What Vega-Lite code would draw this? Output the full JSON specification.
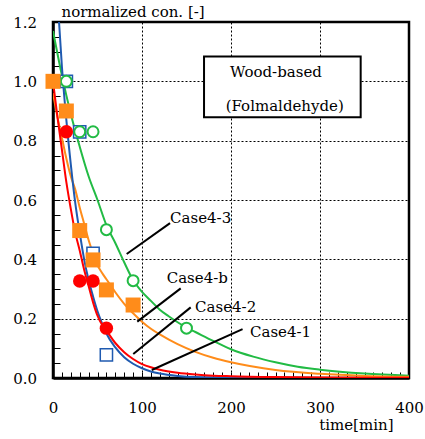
{
  "$schema": "https://vega.github.io/schema/vega-lite/v6.json",
  "width": 356,
  "height": 356,
  "autosize": {"type": "none"},
  "padding": {"left": 53, "top": 22, "right": 16, "bottom": 61},
  "background": "white",
  "config": {
    "view": {"stroke": "black", "strokeWidth": 2.5},
    "font": "DejaVu Serif",
    "text": {"font": "DejaVu Serif", "fontSize": 15, "color": "black"}
  },
  "datasets": {
    "curves": [
      {"series": "Case4-3", "x": 0, "y": 1.17}, {"series": "Case4-3", "x": 10, "y": 1.02}, {"series": "Case4-3", "x": 20, "y": 0.89}, {"series": "Case4-3", "x": 30, "y": 0.78}, {"series": "Case4-3", "x": 40, "y": 0.68}, {"series": "Case4-3", "x": 50, "y": 0.6}, {"series": "Case4-3", "x": 60, "y": 0.515}, {"series": "Case4-3", "x": 70, "y": 0.455}, {"series": "Case4-3", "x": 80, "y": 0.39}, {"series": "Case4-3", "x": 90, "y": 0.33}, {"series": "Case4-3", "x": 100, "y": 0.29}, {"series": "Case4-3", "x": 110, "y": 0.26}, {"series": "Case4-3", "x": 120, "y": 0.23}, {"series": "Case4-3", "x": 130, "y": 0.208}, {"series": "Case4-3", "x": 140, "y": 0.188}, {"series": "Case4-3", "x": 150, "y": 0.17}, {"series": "Case4-3", "x": 160, "y": 0.155}, {"series": "Case4-3", "x": 180, "y": 0.125}, {"series": "Case4-3", "x": 200, "y": 0.097}, {"series": "Case4-3", "x": 225, "y": 0.072}, {"series": "Case4-3", "x": 250, "y": 0.053}, {"series": "Case4-3", "x": 275, "y": 0.038}, {"series": "Case4-3", "x": 300, "y": 0.028}, {"series": "Case4-3", "x": 350, "y": 0.015}, {"series": "Case4-3", "x": 400, "y": 0.008},
      {"series": "Case4-b", "x": 0, "y": 0.96}, {"series": "Case4-b", "x": 5, "y": 0.88}, {"series": "Case4-b", "x": 10, "y": 0.81}, {"series": "Case4-b", "x": 15, "y": 0.74}, {"series": "Case4-b", "x": 20, "y": 0.68}, {"series": "Case4-b", "x": 25, "y": 0.635}, {"series": "Case4-b", "x": 30, "y": 0.575}, {"series": "Case4-b", "x": 35, "y": 0.52}, {"series": "Case4-b", "x": 40, "y": 0.465}, {"series": "Case4-b", "x": 45, "y": 0.42}, {"series": "Case4-b", "x": 50, "y": 0.38}, {"series": "Case4-b", "x": 55, "y": 0.355}, {"series": "Case4-b", "x": 60, "y": 0.333}, {"series": "Case4-b", "x": 70, "y": 0.289}, {"series": "Case4-b", "x": 80, "y": 0.25}, {"series": "Case4-b", "x": 90, "y": 0.218}, {"series": "Case4-b", "x": 100, "y": 0.19}, {"series": "Case4-b", "x": 110, "y": 0.166}, {"series": "Case4-b", "x": 120, "y": 0.147}, {"series": "Case4-b", "x": 140, "y": 0.114}, {"series": "Case4-b", "x": 160, "y": 0.088}, {"series": "Case4-b", "x": 180, "y": 0.068}, {"series": "Case4-b", "x": 200, "y": 0.053}, {"series": "Case4-b", "x": 250, "y": 0.027}, {"series": "Case4-b", "x": 300, "y": 0.014}, {"series": "Case4-b", "x": 350, "y": 0.007}, {"series": "Case4-b", "x": 400, "y": 0.004},
      {"series": "Case4-1", "x": 5, "y": 1.27}, {"series": "Case4-1", "x": 7, "y": 1.19}, {"series": "Case4-1", "x": 10, "y": 1.05}, {"series": "Case4-1", "x": 15, "y": 0.87}, {"series": "Case4-1", "x": 20, "y": 0.72}, {"series": "Case4-1", "x": 25, "y": 0.59}, {"series": "Case4-1", "x": 30, "y": 0.49}, {"series": "Case4-1", "x": 35, "y": 0.4}, {"series": "Case4-1", "x": 40, "y": 0.33}, {"series": "Case4-1", "x": 45, "y": 0.275}, {"series": "Case4-1", "x": 50, "y": 0.225}, {"series": "Case4-1", "x": 55, "y": 0.185}, {"series": "Case4-1", "x": 60, "y": 0.15}, {"series": "Case4-1", "x": 70, "y": 0.103}, {"series": "Case4-1", "x": 80, "y": 0.07}, {"series": "Case4-1", "x": 90, "y": 0.048}, {"series": "Case4-1", "x": 100, "y": 0.033}, {"series": "Case4-1", "x": 110, "y": 0.022}, {"series": "Case4-1", "x": 120, "y": 0.015}, {"series": "Case4-1", "x": 140, "y": 0.007}, {"series": "Case4-1", "x": 160, "y": 0.003}, {"series": "Case4-1", "x": 200, "y": 0.001}, {"series": "Case4-1", "x": 250, "y": 0.0}, {"series": "Case4-1", "x": 400, "y": 0.0},
      {"series": "Case4-2", "x": 0, "y": 1.0}, {"series": "Case4-2", "x": 5, "y": 0.88}, {"series": "Case4-2", "x": 10, "y": 0.77}, {"series": "Case4-2", "x": 15, "y": 0.66}, {"series": "Case4-2", "x": 20, "y": 0.57}, {"series": "Case4-2", "x": 25, "y": 0.49}, {"series": "Case4-2", "x": 30, "y": 0.43}, {"series": "Case4-2", "x": 35, "y": 0.365}, {"series": "Case4-2", "x": 40, "y": 0.31}, {"series": "Case4-2", "x": 45, "y": 0.255}, {"series": "Case4-2", "x": 50, "y": 0.21}, {"series": "Case4-2", "x": 55, "y": 0.18}, {"series": "Case4-2", "x": 60, "y": 0.16}, {"series": "Case4-2", "x": 70, "y": 0.118}, {"series": "Case4-2", "x": 80, "y": 0.087}, {"series": "Case4-2", "x": 90, "y": 0.064}, {"series": "Case4-2", "x": 100, "y": 0.047}, {"series": "Case4-2", "x": 110, "y": 0.036}, {"series": "Case4-2", "x": 120, "y": 0.028}, {"series": "Case4-2", "x": 140, "y": 0.018}, {"series": "Case4-2", "x": 160, "y": 0.012}, {"series": "Case4-2", "x": 180, "y": 0.008}, {"series": "Case4-2", "x": 200, "y": 0.006}, {"series": "Case4-2", "x": 250, "y": 0.003}, {"series": "Case4-2", "x": 300, "y": 0.0015}, {"series": "Case4-2", "x": 400, "y": 0.0005}
    ],
    "points": [
      {"series": "Case4-1", "x": 15, "y": 1.0}, {"series": "Case4-1", "x": 30, "y": 0.83}, {"series": "Case4-1", "x": 45, "y": 0.42}, {"series": "Case4-1", "x": 60, "y": 0.078},
      {"series": "Case4-3", "x": 15, "y": 1.0}, {"series": "Case4-3", "x": 30, "y": 0.83}, {"series": "Case4-3", "x": 45, "y": 0.83}, {"series": "Case4-3", "x": 60, "y": 0.5}, {"series": "Case4-3", "x": 90, "y": 0.328}, {"series": "Case4-3", "x": 150, "y": 0.168},
      {"series": "Case4-b", "x": 0, "y": 1.0}, {"series": "Case4-b", "x": 15, "y": 0.9}, {"series": "Case4-b", "x": 30, "y": 0.497}, {"series": "Case4-b", "x": 45, "y": 0.398}, {"series": "Case4-b", "x": 60, "y": 0.297}, {"series": "Case4-b", "x": 90, "y": 0.246},
      {"series": "Case4-2", "x": 15, "y": 0.83}, {"series": "Case4-2", "x": 30, "y": 0.327}, {"series": "Case4-2", "x": 45, "y": 0.327}, {"series": "Case4-2", "x": 60, "y": 0.168}
    ],
    "leaders": [
      {"x": 82.8, "y": 0.418, "x2": 131.5, "y2": 0.522},
      {"x": 94.7, "y": 0.19, "x2": 143.5, "y2": 0.302},
      {"x": 90.2, "y": 0.081, "x2": 154.7, "y2": 0.238},
      {"x": 111, "y": 0.027, "x2": 213, "y2": 0.165}
    ],
    "labels": [
      {"label": "Case4-3", "x": 131.5, "y": 0.522},
      {"label": "Case4-b", "x": 127.7, "y": 0.321},
      {"label": "Case4-2", "x": 159.6, "y": 0.224},
      {"label": "Case4-1", "x": 221.3, "y": 0.137}
    ],
    "box": [{"x": 169.7, "x2": 345.7, "y": 0.879, "y2": 1.084}],
    "boxtext": [
      {"label": "Wood-based", "x": 198.9, "y": 1.013},
      {"label": "(Folmaldehyde)", "x": 194, "y": 0.901}
    ]
  },
  "encoding": {
    "x": {
      "field": "x", "type": "quantitative",
      "scale": {"domain": [0, 400], "nice": false, "zero": false},
      "axis": {
        "values": [0,10,20,30,40,50,60,70,80,90,100,110,120,130,140,150,160,170,180,190,200,210,220,230,240,250,260,270,280,290,300,310,320,330,340,350,360,370,380,390,400],
        "labelExpr": "datum.value % 100 === 0 ? datum.label : ''",
        "grid": true, "gridColor": "black", "gridDash": [2, 2], "gridWidth": 1,
        "gridOpacity": {"condition": {"test": "datum.value % 100 === 0", "value": 1}, "value": 0},
        "tickSize": -6, "tickColor": "black", "tickWidth": 1,
        "domainColor": "black", "domainWidth": 2.5,
        "labelFont": "DejaVu Serif", "labelFontSize": 15, "labelColor": "black", "labelPadding": 28,
        "labelOverlap": false, "labelFlush": false,
        "title": "time[min]", "titleFont": "DejaVu Serif", "titleFontSize": 15, "titleFontWeight": "normal", "titleColor": "black",
        "titleAlign": "right", "titleX": 340, "titleY": 51, "titleBaseline": "alphabetic"
      }
    },
    "y": {
      "field": "y", "type": "quantitative",
      "scale": {"domain": [0, 1.2], "nice": false},
      "axis": {
        "values": [0,0.05,0.1,0.15,0.2,0.25,0.3,0.35,0.4,0.45,0.5,0.55,0.6,0.65,0.7,0.75,0.8,0.85,0.9,0.95,1.0,1.05,1.1,1.15,1.2],
        "labelExpr": "abs(datum.value*5 - round(datum.value*5)) < 0.001 ? format(datum.value, '.1f') : ''",
        "grid": true, "gridColor": "black", "gridDash": [2, 2], "gridWidth": 1,
        "gridOpacity": {"condition": {"test": "abs(datum.value*5 - round(datum.value*5)) < 0.001", "value": 1}, "value": 0},
        "tickSize": -7, "tickColor": "black", "tickWidth": 1,
        "domainColor": "black", "domainWidth": 2.5,
        "labelFont": "DejaVu Serif", "labelFontSize": 15, "labelColor": "black", "labelPadding": 23.5,
        "labelOverlap": false, "labelFlush": false,
        "title": "normalized con. [-]", "titleFont": "DejaVu Serif", "titleFontSize": 15, "titleFontWeight": "normal", "titleColor": "black",
        "titleAngle": 0, "titleAlign": "left", "titleX": 8, "titleY": -6, "titleBaseline": "alphabetic"
      }
    }
  },
  "layer": [
    {
      "data": {"name": "box"},
      "mark": {"type": "rect", "fill": "white", "stroke": "black", "strokeWidth": 2},
      "encoding": {"x2": {"field": "x2"}, "y2": {"field": "y2"}}
    },
    {
      "data": {"name": "boxtext"},
      "mark": {"type": "text", "align": "left", "baseline": "alphabetic", "font": "DejaVu Serif"},
      "encoding": {"text": {"field": "label"}}
    },
    {
      "data": {"name": "curves"},
      "mark": {"type": "line", "clip": true, "strokeWidth": 2, "interpolate": "monotone"},
      "encoding": {
        "color": {"field": "series", "type": "nominal", "legend": null,
          "scale": {"domain": ["Case4-1", "Case4-2", "Case4-b", "Case4-3"], "range": ["#1f5ab0", "#ff0000", "#ff8c1a", "#22bb44"]}},
        "order": {"field": "x", "type": "quantitative"}
      }
    },
    {
      "data": {"name": "leaders"},
      "mark": {"type": "rule", "color": "black", "strokeWidth": 2},
      "encoding": {"x2": {"field": "x2"}, "y2": {"field": "y2"}}
    },
    {
      "data": {"name": "labels"},
      "mark": {"type": "text", "align": "left", "baseline": "alphabetic", "font": "DejaVu Serif"},
      "encoding": {"text": {"field": "label"}}
    },
    {
      "data": {"name": "points"},
      "transform": [{"filter": "datum.series === 'Case4-1'"}],
      "mark": {"type": "point", "shape": "square", "filled": true, "fill": "white", "stroke": "#1f5ab0", "strokeWidth": 1.5, "size": 150, "opacity": 1}
    },
    {
      "data": {"name": "points"},
      "transform": [{"filter": "datum.series === 'Case4-3'"}],
      "mark": {"type": "point", "shape": "circle", "filled": true, "fill": "white", "stroke": "#22bb44", "strokeWidth": 2, "size": 120, "opacity": 1}
    },
    {
      "data": {"name": "points"},
      "transform": [{"filter": "datum.series === 'Case4-b'"}],
      "mark": {"type": "point", "shape": "square", "filled": true, "color": "#ff8c1a", "size": 225, "opacity": 1}
    },
    {
      "data": {"name": "points"},
      "transform": [{"filter": "datum.series === 'Case4-2'"}],
      "mark": {"type": "point", "shape": "circle", "filled": true, "color": "#ff0000", "size": 180, "opacity": 1}
    }
  ]
}
